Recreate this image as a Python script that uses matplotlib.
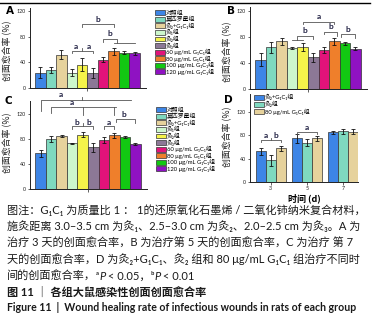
import matplotlib
matplotlib.use("Agg")
import matplotlib.pyplot as plt
from matplotlib.patches import Patch
from matplotlib.lines import Line2D
import numpy as np

W, H, DPI = 386, 319, 100
FAM = ["Lato", "Noto Sans CJK SC", "DejaVu Sans"]
CJK = ["Noto Sans CJK SC", "DejaVu Sans"]
plt.rcParams["font.family"] = FAM

# ---------------- data ----------------
groups = ["对照组", "莫匹罗星组", "灸₂+G₁C₁组", "灸₁组", "灸₂组", "灸₃组",
          "60 μg/mL G₁C₁组", "80 μg/mL G₁C₁组", "100 μg/mL G₁C₁组", "120 μg/mL G₁C₁组"]
colors = ["#3d85e6", "#7fd9bf", "#e6d29c", "#cdf7cc", "#f5f34a",
          "#8c7896", "#e2137a", "#ef7f2b", "#12c812", "#8f12c2"]
day3 = [24, 28, 52, 24, 36, 23, 44, 57, 55, 54]
day3_err = [8, 5, 7, 6, 10, 8, 4, 5, 2, 2]
day5 = [45, 64, 73, 63, 65, 49, 60, 73, 70, 62]
day5_err = [10, 8, 6, 2, 6, 7, 4, 5, 2, 2]
day7 = [57, 80, 85, 73, 87, 67, 78, 86, 83, 72]
day7_err = [6, 4, 2, 1, 4, 7, 5, 4, 2, 2]

d_groups = ["灸₂+G₁C₁组", "灸₂组", "80 μg/mL G₁C₁组"]
d_colors = ["#3d85e6", "#7fd9bf", "#e6d29c"]
d_days = ["3", "5", "7"]
d_vals = [[53, 75, 85], [37, 67, 87], [58, 75, 86]]
d_err = [[6, 8, 2], [10, 6, 4], [4, 4, 4]]

yticks = [0, 40, 80, 120]
ylabel = "创面愈合率 (%)"

caption = [
    "图注：G₁C₁ 为质量比 1 ： 1的还原氧化石墨烯 / 二氧化铈纳米复合材料，",
    "施灸距离 3.0–3.5 cm 为灸₁、2.5–3.0 cm 为灸₂、2.0–2.5 cm 为灸₃。A 为",
    "治疗 3 天的创面愈合率，B 为治疗第 5 天的创面愈合率，C 为治疗 第 7",
    "天的创面愈合率，D 为灸₂+G₁C₁、灸₂ 组和 80 μg/mL G₁C₁ 组治疗不同时",
]
caption_last = [("间的创面愈合率，", {}), ("ᵃ", {}), ("P", {"style": "italic"}),
                (" < 0.05，", {}), ("ᵇ", {}), ("P", {"style": "italic"}), (" < 0.01", {})]
title_cn = "图 11 ｜ 各组大鼠感染性创面创面愈合率"
title_en = "Figure 11  |  Wound healing rate of infectious wounds in rats of each group"

# ---------------- figure ----------------
fig = plt.figure(figsize=(W / DPI, H / DPI), dpi=DPI)
fig.patch.set_facecolor("white")


def px_axes(left, top, right, bottom):
    return fig.add_axes([left / W, 1 - bottom / H, (right - left) / W, (bottom - top) / H])


def style_axes(ax, ymax):
    for s in ["top", "right"]:
        ax.spines[s].set_visible(False)
    for s in ["left", "bottom"]:
        ax.spines[s].set_linewidth(0.7)
        ax.spines[s].set_color("#222222")
    ax.set_ylim(0, ymax)
    ax.set_yticks(yticks)
    ax.tick_params(axis="both", labelsize=3.8, length=1.8, width=0.5, pad=1, colors="#222222")
    ax.set_ylabel(ylabel, fontsize=6.4, family=CJK, labelpad=1, color="#222222")


LINE_C = "#555555"
TXT_C = "#222244"


def bracket(ax, x1, x2, y, h1, h2=None, label=None, lx=None, ly=None):
    if h2 is None:
        h2 = h1
    ax.plot([x1, x1, x2, x2], [y - h1, y, y, y - h2], color=LINE_C, lw=0.6, clip_on=False)
    if label:
        ax.text((x1 + x2) / 2 if lx is None else lx, y + 1.5 if ly is None else ly, label,
                ha="center", va="bottom", fontsize=6, fontweight="bold", color=TXT_C)


def seg(ax, xs, ys):
    ax.plot(xs, ys, color=LINE_C, lw=0.6, clip_on=False)


def lab(ax, x, y, s):
    ax.text(x, y, s, ha="center", va="bottom", fontsize=6, fontweight="bold", color=TXT_C)


def bar_panel(ax, vals, errs, ymax):
    x = np.arange(len(vals))
    ax.bar(x, vals, width=1.0, color=colors, edgecolor="#333333", linewidth=0.5,
           yerr=errs, error_kw=dict(ecolor="#111111", elinewidth=0.6, capsize=1.3, capthick=0.6))
    style_axes(ax, ymax)
    ax.set_xlim(-1.0, 10.1)
    ax.set_xticks([4.5])
    ax.set_xticklabels([""])


# Panel A
axA = px_axes(30, 7.7, 146, 88)
bar_panel(axA, day3, day3_err, 125)
axA.yaxis.set_label_coords(-18 / 116, (88 - 51) / 80.3)
bracket(axA, 4, 7, 99, 4, label="b", ly=101)
seg(axA, [6, 6, 7.3, 7.3], [72, 77, 77, 70])
seg(axA, [7.0, 9.0], [70, 70])
lab(axA, 6.65, 79, "b")
seg(axA, [3, 3, 5, 5], [54, 58, 58, 54])
seg(axA, [4, 4], [58, 62])
lab(axA, 3.4, 59, "a")
lab(axA, 4.6, 59, "a")

# Panel B
axB = px_axes(250, 7, 367, 89)
bar_panel(axB, day5, day5_err, 126)
axB.yaxis.set_label_coords(-18 / 117, (89 - 52) / 82)
bracket(axB, 4, 7, 103.5, 4, label="a", ly=106)
seg(axB, [3, 4], [76, 76])
seg(axB, [3.5, 3.5, 5, 5], [76, 82, 82, 77])
lab(axB, 4.25, 84, "b")
bracket(axB, 6, 7.3, 88, 4, 6, label="b", ly=90)
bracket(axB, 7.6, 9, 84, 4, 6, label="b", ly=86)

# Panel C
axC = px_axes(30, 101.5, 147, 189)
bar_panel(axC, day7, day7_err, 140)
axC.yaxis.set_label_coords(-18 / 117, (189 - 143) / 87.5)
seg(axC, [0, 0, 8.6], [124, 143, 143])
seg(axC, [3.9, 3.9], [143, 147])
lab(axC, 1.9, 146, "a")
seg(axC, [1, 1, 7.2], [122, 131, 131])
seg(axC, [4, 4], [131, 118])
seg(axC, [7, 7], [131, 118])
lab(axC, 3.0, 133, "a")
seg(axC, [3, 3, 5, 5], [96, 100, 100, 96])
seg(axC, [4, 4], [100, 106])
lab(axC, 3.4, 101, "b")
lab(axC, 4.6, 101, "b")
bracket(axC, 6, 7, 100, 4, label="a", ly=101)
bracket(axC, 7.2, 9, 112, 5, 6, label="b", lx=7.9, ly=114)

# Panel D
axD = px_axes(250, 94.5, 358, 182)
xd = np.arange(len(d_days))
bw = 0.275
for i, (vals, errs) in enumerate(zip(d_vals, d_err)):
    axD.bar(xd + (i - 1) * bw, vals, width=bw, color=d_colors[i], edgecolor="#333333",
            linewidth=0.5, yerr=errs, label=d_groups[i],
            error_kw=dict(ecolor="#111111", elinewidth=0.6, capsize=1.3, capthick=0.6))
style_axes(axD, 150)
axD.set_xlim(-0.57, 2.41)
axD.set_xticks(xd)
axD.set_xticklabels(d_days)
axD.yaxis.set_label_coords(-18 / 108, (182 - 137) / 87.5)
axD.set_xlabel("时间 (d)", fontsize=6.5, fontweight="bold", family=CJK, labelpad=2)
seg(axD, [-bw, -bw, bw, bw], [68, 72, 72, 68])
seg(axD, [0, 0], [72, 76])
lab(axD, -0.14, 73, "a")
lab(axD, 0.15, 73, "b")
bracket(axD, 1 - bw, 1 + bw, 86, 4, label="a", ly=87)
axD.legend(loc="upper left", bbox_to_anchor=(254 / W, 1 - 94 / H), bbox_transform=fig.transFigure,
           frameon=False, prop=dict(family=FAM, size=4.2), handlelength=1.75, handleheight=0.9,
           handletextpad=0.15, labelspacing=0.15, borderpad=0, borderaxespad=0)

# legends for A and C
handles = [Patch(facecolor=c, edgecolor="#333333", linewidth=0.5) for c in colors]
for ax, (lx, ly) in [(axA, (155, 10)), (axC, (156, 107))]:
    ax.legend(handles, groups, loc="upper left", bbox_to_anchor=(lx / W, 1 - ly / H),
              bbox_transform=fig.transFigure, frameon=False, prop=dict(family=FAM, size=4.2),
              handlelength=1.75, handleheight=0.9, handletextpad=0.15, labelspacing=0.05,
              borderpad=0, borderaxespad=0)

# panel letters
for s, (x, y) in {"A": (10, 11), "B": (231, 11), "C": (8, 101), "D": (228, 100)}.items():
    fig.text(x / W, 1 - y / H, s, fontsize=7.5, fontweight="bold", ha="center", va="center",
             family=["DejaVu Sans"])

# top rule
fig.add_artist(Line2D([0, 370 / W], [1 - 3.3 / H] * 2, transform=fig.transFigure,
                      color="black", lw=1.0))

# caption
CAP_FS = 8
y0 = 214
for i, line in enumerate(caption):
    fig.text(7 / W, 1 - (y0 + i * 16.4) / H, line, fontsize=CAP_FS, ha="left",
             va="baseline", color="#1a1a1a")

renderer = fig.canvas.get_renderer()
x = 7
yb = y0 + 4 * 16.4
for text, kw in caption_last:
    t = fig.text(x / W, 1 - yb / H, text, fontsize=CAP_FS, ha="left", va="baseline",
                 color="#1a1a1a", **kw)
    x += t.get_window_extent(renderer).width

fig.text(7 / W, 1 - 296 / H, title_cn, fontsize=CAP_FS, fontweight="bold", ha="left",
         va="baseline", color="#1a1a1a")
fig.text(7 / W, 1 - 311 / H, title_en, fontsize=7.6, fontweight="bold", ha="left",
         va="baseline", color="#1a1a1a")

fig.savefig("out.png", dpi=DPI, facecolor="white")
